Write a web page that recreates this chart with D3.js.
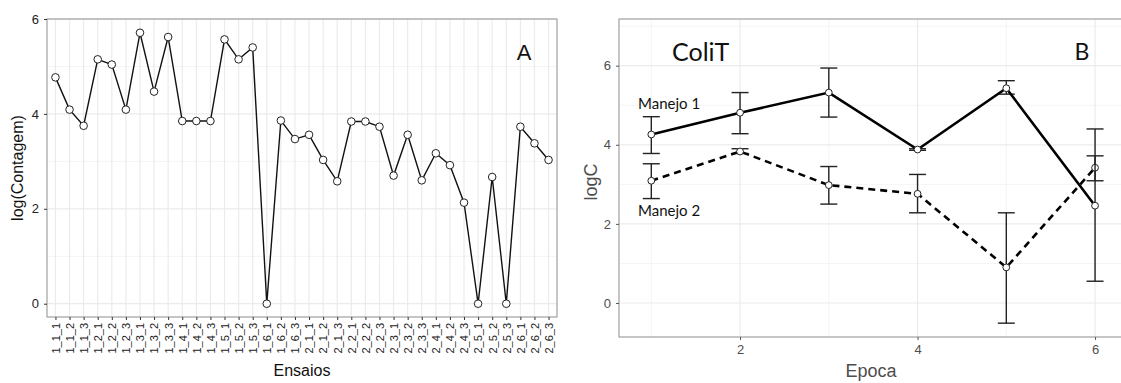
<!DOCTYPE html>
<html>
<head>
<meta charset="utf-8">
<script src="https://cdn.jsdelivr.net/npm/d3@7"></script>
<style>
  body { margin: 0; background: #fff; }
  svg { display: block; }
</style>
</head>
<body>
<svg id="chart" width="1121" height="383"></svg>
<script>
// panel A: counts per assay
const ensaios = [];
[1, 2].forEach(a => d3.range(1, 7).forEach(b => [1, 2, 3].forEach(c => ensaios.push(`${a}_${b}_${c}`))));
const contagem = [4.77, 4.09, 3.75, 5.15, 5.04, 4.09, 5.71, 4.47, 5.62, 3.85, 3.85, 3.85,
                  5.57, 5.15, 5.40, 0, 3.86, 3.47, 3.56, 3.03, 2.58, 3.84, 3.84, 3.73,
                  2.70, 3.56, 2.60, 3.17, 2.92, 2.13, 0, 2.67, 0, 3.73, 3.38, 3.03];
const yTicksA = [0, 2, 4, 6];

// panel B: ColiT by epoch
const epocas = [1, 2, 3, 4, 5, 6];
const manejo1 = [4.26, 4.81, 5.32, 3.88, 5.43, 2.46];
const manejo1Lo = [3.78, 4.28, 4.70, 3.86, 5.28, 0.55];
const manejo1Hi = [4.71, 5.32, 5.94, 3.90, 5.62, 4.40];
const manejo2 = [3.09, 3.83, 2.98, 2.76, 0.90, 3.42];
const manejo2Lo = [2.64, 3.78, 2.50, 2.28, -0.51, 3.09];
const manejo2Hi = [3.52, 3.90, 3.45, 3.25, 2.28, 3.72];
const yTicksB = [0, 2, 4, 6];
const xTicksB = [2, 4, 6];

const svg = d3.select('#chart');
const sans = '"Liberation Sans", Arial, sans-serif';
const calib = '"Lato", "Open Sans", sans-serif';
const gridMajor = '#ebebeb', gridMinor = '#f4f4f4', frame = '#a0a0a0';

// ---------- Panel A ----------
const A = { l: 47, r: 557, t: 19, b: 317 };
const xA = d3.scalePoint().domain(ensaios).range([A.l, A.r]).padding(0.6);
const yA = d3.scaleLinear().domain([-0.28, 6]).range([A.b, A.t]);

const gA = svg.append('g');
gA.selectAll('line.hmin').data([1, 3, 5]).join('line')
    .attr('x1', A.l).attr('x2', A.r).attr('y1', d => yA(d)).attr('y2', d => yA(d))
    .attr('stroke', gridMinor).attr('stroke-width', 1);
gA.selectAll('line.hmaj').data(yTicksA).join('line')
    .attr('x1', A.l).attr('x2', A.r).attr('y1', d => yA(d)).attr('y2', d => yA(d))
    .attr('stroke', gridMajor).attr('stroke-width', 1.2);
gA.selectAll('line.v').data(ensaios).join('line')
    .attr('x1', d => xA(d)).attr('x2', d => xA(d)).attr('y1', A.t).attr('y2', A.b)
    .attr('stroke', gridMajor).attr('stroke-width', 1.2);
gA.append('rect').attr('x', A.l).attr('y', A.t).attr('width', A.r - A.l).attr('height', A.b - A.t)
    .attr('fill', 'none').attr('stroke', frame).attr('stroke-width', 1.2);

const axYA = gA.append('g').attr('transform', `translate(${A.l},0)`)
    .call(d3.axisLeft(yA).tickValues(yTicksA).tickFormat(d3.format('d')).tickSize(3).tickPadding(5));
axYA.attr('font-family', sans);
axYA.select('.domain').remove();
axYA.selectAll('line').attr('stroke', '#333');
axYA.selectAll('text').attr('font-size', 13).attr('fill', '#222');

const axXA = gA.append('g').attr('transform', `translate(0,${A.b})`)
    .call(d3.axisBottom(xA).tickSize(3));
axXA.attr('font-family', sans);
axXA.select('.domain').remove();
axXA.selectAll('line').attr('stroke', '#333');
axXA.selectAll('.tick text').attr('font-size', 11).attr('fill', '#222')
    .attr('transform', 'rotate(-90)').attr('text-anchor', 'end')
    .attr('x', -6).attr('y', 0).attr('dy', '0.35em');

gA.append('path').datum(contagem)
    .attr('fill', 'none').attr('stroke', '#111').attr('stroke-width', 1.4)
    .attr('d', d3.line().x((d, i) => xA(ensaios[i])).y(d => yA(d)));
gA.selectAll('circle').data(contagem).join('circle')
    .attr('cx', (d, i) => xA(ensaios[i])).attr('cy', d => yA(d)).attr('r', 3.8)
    .attr('fill', '#fff').attr('stroke', '#222').attr('stroke-width', 1);

gA.append('text').attr('x', 524).attr('y', 60).attr('text-anchor', 'middle').attr('font-family', sans)
    .attr('font-size', 22).attr('fill', '#111').text('A');
gA.append('text').attr('transform', `translate(23,${(A.t + A.b) / 2}) rotate(-90)`).attr('font-family', sans)
    .attr('text-anchor', 'middle').attr('font-size', 16).attr('fill', '#111').text('log(Contagem)');
gA.append('text').attr('x', (A.l + A.r) / 2).attr('y', 376).attr('text-anchor', 'middle').attr('font-family', sans)
    .attr('font-size', 16).attr('fill', '#111').text('Ensaios');

// ---------- Panel B ----------
const B = { l: 619, r: 1127, t: 19, b: 337 };
const xB = d3.scaleLinear().domain([0.636, 6.36]).range([B.l, B.r]);
const yB = d3.scaleLinear().domain([-0.86, 7.18]).range([B.b, B.t]);
const gB = svg.append('g');

gB.selectAll('line.hmin').data([1, 3, 5, 7]).join('line')
    .attr('x1', B.l).attr('x2', B.r).attr('y1', d => yB(d)).attr('y2', d => yB(d))
    .attr('stroke', gridMinor).attr('stroke-width', 1);
gB.selectAll('line.vmin').data([1, 3, 5]).join('line')
    .attr('x1', d => xB(d)).attr('x2', d => xB(d)).attr('y1', B.t).attr('y2', B.b)
    .attr('stroke', gridMinor).attr('stroke-width', 1);
gB.selectAll('line.hmaj').data(yTicksB).join('line')
    .attr('x1', B.l).attr('x2', B.r).attr('y1', d => yB(d)).attr('y2', d => yB(d))
    .attr('stroke', gridMajor).attr('stroke-width', 1.2);
gB.selectAll('line.vmaj').data(xTicksB).join('line')
    .attr('x1', d => xB(d)).attr('x2', d => xB(d)).attr('y1', B.t).attr('y2', B.b)
    .attr('stroke', gridMajor).attr('stroke-width', 1.2);
gB.append('rect').attr('x', B.l).attr('y', B.t).attr('width', B.r - B.l).attr('height', B.b - B.t)
    .attr('fill', 'none').attr('stroke', frame).attr('stroke-width', 1.2);

const axYB = gB.append('g').attr('transform', `translate(${B.l},0)`)
    .call(d3.axisLeft(yB).tickValues(yTicksB).tickFormat(d3.format('d')).tickSize(3).tickPadding(5));
axYB.attr('font-family', sans);
axYB.select('.domain').remove();
axYB.selectAll('line').attr('stroke', '#555');
axYB.selectAll('text').attr('font-size', 13).attr('fill', '#4d4d4d');

const axXB = gB.append('g').attr('transform', `translate(0,${B.b})`)
    .call(d3.axisBottom(xB).tickValues(xTicksB).tickFormat(d3.format('d')).tickSize(3).tickPadding(5));
axXB.attr('font-family', sans);
axXB.select('.domain').remove();
axXB.selectAll('line').attr('stroke', '#555');
axXB.selectAll('text').attr('font-size', 13).attr('fill', '#4d4d4d');

function series(vals, lo, hi, dash) {
  const g = gB.append('g');
  const pts = epocas.map((e, i) => ({ e, v: vals[i], lo: lo[i], hi: hi[i] }));
  g.selectAll('line.eb').data(pts).join('line')
      .attr('x1', d => xB(d.e)).attr('x2', d => xB(d.e)).attr('y1', d => yB(d.lo)).attr('y2', d => yB(d.hi))
      .attr('stroke', '#222').attr('stroke-width', 1.4);
  ['lo', 'hi'].forEach(k => {
    g.selectAll('line.cap' + k).data(pts).join('line')
        .attr('x1', d => xB(d.e) - 8.5).attr('x2', d => xB(d.e) + 8.5)
        .attr('y1', d => yB(d[k])).attr('y2', d => yB(d[k]))
        .attr('stroke', '#222').attr('stroke-width', 1.4);
  });
  g.append('path').datum(pts)
      .attr('fill', 'none').attr('stroke', '#000').attr('stroke-width', 2.6)
      .attr('stroke-dasharray', dash)
      .attr('d', d3.line().x(d => xB(d.e)).y(d => yB(d.v)));
  g.selectAll('circle').data(pts).join('circle')
      .attr('cx', d => xB(d.e)).attr('cy', d => yB(d.v)).attr('r', 3.4)
      .attr('fill', '#fff').attr('stroke', '#222').attr('stroke-width', 1);
}
series(manejo2, manejo2Lo, manejo2Hi, '7,5');
series(manejo1, manejo1Lo, manejo1Hi, null);

gB.append('text').attr('x', 672).attr('y', 61).attr('font-family', calib)
    .attr('font-size', 25).attr('fill', '#111').text('ColiT');
gB.append('text').attr('x', 1082).attr('y', 60).attr('text-anchor', 'middle').attr('font-family', calib)
    .attr('font-size', 23).attr('fill', '#111').text('B');
gB.append('text').attr('x', 638).attr('y', 109).attr('font-family', calib)
    .attr('font-size', 15).attr('fill', '#111').text('Manejo 1');
gB.append('text').attr('x', 638).attr('y', 216).attr('font-family', calib)
    .attr('font-size', 15).attr('fill', '#111').text('Manejo 2');
gB.append('text').attr('transform', `translate(597,${(B.t + B.b) / 2 + 4}) rotate(-90)`).attr('font-family', sans)
    .attr('text-anchor', 'middle').attr('font-size', 18).attr('fill', '#4d4d4d').text('logC');
gB.append('text').attr('x', 871).attr('y', 377).attr('text-anchor', 'middle').attr('font-family', sans)
    .attr('font-size', 18).attr('fill', '#4d4d4d').text('Epoca');
</script>
</body>
</html>
